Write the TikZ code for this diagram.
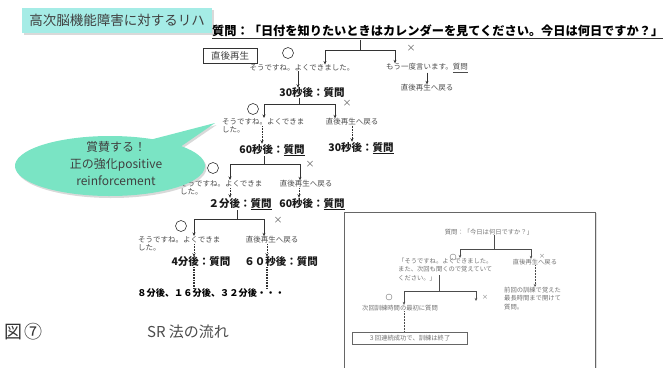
\documentclass[tikz,border=0pt]{standalone}
\usepackage{fontspec}
\setmainfont{Noto Sans CJK JP}
\usetikzlibrary{arrows.meta,shapes.callouts,shadows}
\definecolor{mint}{RGB}{122,228,196}
\definecolor{titlecyan}{RGB}{165,236,230}
\begin{document}
\begin{tikzpicture}[x=1pt,y=-1pt,
  sm/.style={font=\fontsize{7.5}{8.6}\selectfont, text=black!70, inner sep=0, align=left},
  qq/.style={font=\bfseries\fontsize{10.5}{12}\selectfont, text=black!90, inner sep=0},
  tiny/.style={font=\fontsize{6.3}{8.3}\selectfont, text=black!55, inner sep=0, align=left},
  ln/.style={line width=0.6pt, draw=black!80},
  arr/.style={ln, -{Stealth[length=3.5pt,width=3pt]}},
  darr/.style={arr, densely dotted},
  dline/.style={ln, densely dotted, line width=1.2pt},
  okmark/.style={draw=black!80, circle, minimum size=11pt, inner sep=0, line width=0.6pt},
  okmini/.style={draw=black!55, circle, minimum size=6pt, inner sep=0, line width=0.4pt},
  ngmark/.style={font=\fontsize{9}{9}\selectfont, text=black!65, inner sep=0},
  ngmini/.style={font=\fontsize{6}{6}\selectfont, text=black!55, inner sep=0},
  tln/.style={line width=0.5pt, draw=black!70},
  tarr/.style={tln, -{Stealth[length=3pt,width=2.5pt]}},
  tdarr/.style={tarr, densely dotted}]
\useasboundingbox (0,0) rectangle (667,367);

% title
\node[fill=titlecyan, minimum width=190, minimum height=25, inner sep=0,
  font=\fontsize{13.5}{14}\selectfont, text=black!75,
  drop shadow={opacity=0.3, shadow xshift=1.5pt, shadow yshift=-1.5pt}] (title) at (117,20.5) {高次脳機能障害に対するリハ};

% header
\node[font=\bfseries\fontsize{12.2}{13}\selectfont, anchor=south west, inner sep=0] (hdr) at (212,37)
  {質問：「日付を知りたいときはカレンダーを見てください。今日は何日ですか？」};
\draw[ln] ([yshift=-1.5pt]hdr.south west) -- ([yshift=-1.5pt]hdr.south east);

% row 0
\node[draw=black!80, line width=0.6pt, inner sep=0, font=\fontsize{9.5}{10}\selectfont, text=black!75,
  minimum width=54, minimum height=15] (imm) at (230,55.5) {直後再生};
\node[okmark] (ok0) at (288,53) {};
\node[ngmark] (ng0) at (411,48) {×};
\node[sm] (t0a) at (302,68) {そうですね。よくできました。};
\node[sm] (t0b) at (427,68) {もう一度言います。\underline{質問}};
\node[sm] (t0c) at (427,88) {直後再生へ戻る};
\coordinate (j0t) at (360,39.5);
\coordinate (j0) at (360,50);
\coordinate (j0l) at (325,50);
\coordinate (j0r) at (395,50);
\draw[ln] (j0t) -- (j0);
\draw[ln] (j0l) -- (j0r);
\draw[arr] (j0l) -- (j0l |- t0a.north);
\draw[arr] (j0r) -- (j0r |- t0b.north);
\draw[arr] (t0b) -- (t0c);
\node[qq] (q1) at (312,93) {30秒後：質問};
\draw[arr] ([xshift=-4pt]t0a.south) -- ([xshift=-4pt]t0a.south |- q1.north);

% row 1
\coordinate (j1) at (299,104);
\coordinate (j1l) at (264,104);
\coordinate (j1r) at (335,104);
\draw[ln] (q1.south -| j1) -- (j1);
\draw[ln] (j1l) -- (j1r);
\node[okmark] (ok1) at (253,109) {};
\node[ngmark] (ng1) at (347,103) {×};
\node[sm, anchor=north west] (t1a) at (222,118) {そうですね。よくできま\\した。};
\node[sm] (t1b) at (352,122) {直後再生へ戻る};
\draw[arr] (j1l) -- (j1l |- t1a.north);
\draw[arr] (j1r) -- (j1r |- t1b.north);
\node[qq] (q2a) at (272,150) {60秒後：\underline{質問}};
\node[qq] (q2b) at (361,148) {30秒後：\underline{質問}};
\coordinate (d1a) at (262,126);
\draw[darr] (d1a) -- (d1a |- q2a.north);
\draw[darr] (t1b.south) -- (t1b.south |- q2b.north);

% row 2
\coordinate (j2) at (264,164);
\coordinate (j2l) at (230,164);
\coordinate (j2r) at (300,164);
\draw[ln] (q2a.south -| j2) -- (j2);
\draw[ln] (j2l) -- (j2r);
\node[okmark] (ok2) at (213,168) {};
\node[ngmark] (ng2) at (310,164) {×};
\node[sm, anchor=north west] (t2a) at (180,180) {そうですね。よくできま\\した。};
\node[sm] (t2b) at (306,184) {直後再生へ戻る};
\draw[arr] (j2l) -- (j2l |- t2a.north);
\draw[arr] (j2r) -- (j2r |- t2b.north);
\node[qq] (q3a) at (240,204) {２分後：\underline{質問}};
\node[qq] (q3b) at (312,204) {60秒後：\underline{質問}};
\coordinate (d2a) at (230,188);
\coordinate (d2b) at (299,188);
\draw[darr] (d2a) -- (d2a |- q3a.north);
\draw[darr] (d2b) -- (d2b |- q3b.north);

% row 3
\coordinate (j3) at (237,219);
\coordinate (j3l) at (194,219);
\coordinate (j3r) at (264,219);
\draw[ln] (q3a.south -| j3) -- (j3);
\draw[ln] (j3l) -- (j3r);
\node[okmark] (ok3) at (181,226) {};
\node[ngmark] (ng3) at (278,220) {×};
\node[sm, anchor=north west] (t3a) at (138,236) {そうですね。よくできま\\した。};
\node[sm] (t3b) at (272,240) {直後再生へ戻る};
\draw[arr] (j3l) -- (j3l |- t3a.north);
\draw[arr] (j3r) -- (j3r |- t3b.north);
\node[qq] (q4a) at (201,262) {4分後：質問};
\node[qq] (q4b) at (281,262) {６０秒後：質問};
\coordinate (d3a) at (194,244);
\coordinate (d3b) at (267,244);
\draw[darr] (d3a) -- (d3a |- q4a.north);
\draw[darr] (d3b) -- (d3b |- q4b.north);
\node[font=\bfseries\fontsize{9.2}{10}\selectfont, inner sep=0] (q5) at (211,293) {８分後、１６分後、３２分後・・・};
\draw[dline] (q4a.south -| d3a) -- (d3a |- q5.north);
\draw[dline] (q4b.south -| d3b) -- (d3b |- q5.north);

% callout
\coordinate (tip) at (215,123);
\node[ellipse callout, fill=mint, minimum width=190, minimum height=60, inner sep=0,
  callout absolute pointer={(tip)}, callout pointer arc=22,
  drop shadow={opacity=0.3, shadow xshift=1.5pt, shadow yshift=-2pt}] (praise) at (110,166) {};
\node[align=center, font=\fontsize{12}{17}\selectfont, text=black!75, inner sep=0] (praisetxt) at (116,164)
  {賞賛する！\\正の強化positive\\reinforcement};

% inset
\node[draw=black!60, line width=0.8pt, fill=white, minimum width=251, minimum height=170, anchor=north west, inner sep=0,
  drop shadow={opacity=0.25, shadow xshift=2pt, shadow yshift=-1pt}] (inset) at (344,212) {};
\node[tiny] (i0) at (489,232) {質問：「今日は何日ですか？」};
\coordinate (k0) at (494,249);
\coordinate (k0l) at (460,249);
\coordinate (k0r) at (531,249);
\draw[tln] (i0.south -| k0) -- (k0);
\draw[tln] (k0l) -- (k0r);
\node[okmini] (iok0) at (453,257) {};
\node[ngmini] (ing0) at (542,256) {×};
\node[tiny, anchor=north west] (i1a) at (398,258) {「そうですね。よくできました。\\また、次回も聞くので覚えていて\\ください。」};
\node[tiny] (i1b) at (535,262) {直後再生へ戻る};
\draw[tarr] (k0l) -- (k0l |- i1a.north);
\draw[tarr] (k0r) -- (k0r |- i1b.north);
\coordinate (k1t) at (439,275);
\coordinate (k1) at (439,291);
\coordinate (k1l) at (404,291);
\coordinate (k1r) at (476,291);
\draw[tln] (k1t) -- (k1);
\draw[tln] (k1l) -- (k1r);
\node[okmini] (iok1) at (389,297) {};
\node[ngmini] (ing1) at (485,297) {×};
\node[tiny] (i2a) at (400,308) {次回訓練時間の最初に質問};
\node[tiny, anchor=north west] (i2b) at (504,287) {前回の訓練で覚えた\\最長時間まで開けて\\質問。};
\coordinate (k1e) at (476,301);
\draw[tarr] (k1l) -- (k1l |- i2a.north);
\draw[tarr] (k1r) -- (k1e);
\draw[tdarr] (i1b.south) -- (i1b.south |- i2b.north);
\node[tiny, draw=black!60, line width=0.5pt, minimum width=115, minimum height=12, align=center] (i3) at (409.5,338) {３回連続成功で、訓練は終了};
\draw[tln, densely dotted, line width=1pt] (i2a.south -| k1l) -- (k1l |- i3.north);

% figure labels
\node[font=\fontsize{18}{18}\selectfont, text=black!80, anchor=west, inner sep=0] (fig) at (4,332) {図\kern2pt⑦};
\node[font=\fontsize{15}{15}\selectfont, text=black!70, inner sep=0] (cap) at (188,332) {SR 法の流れ};
\end{tikzpicture}
\end{document}
